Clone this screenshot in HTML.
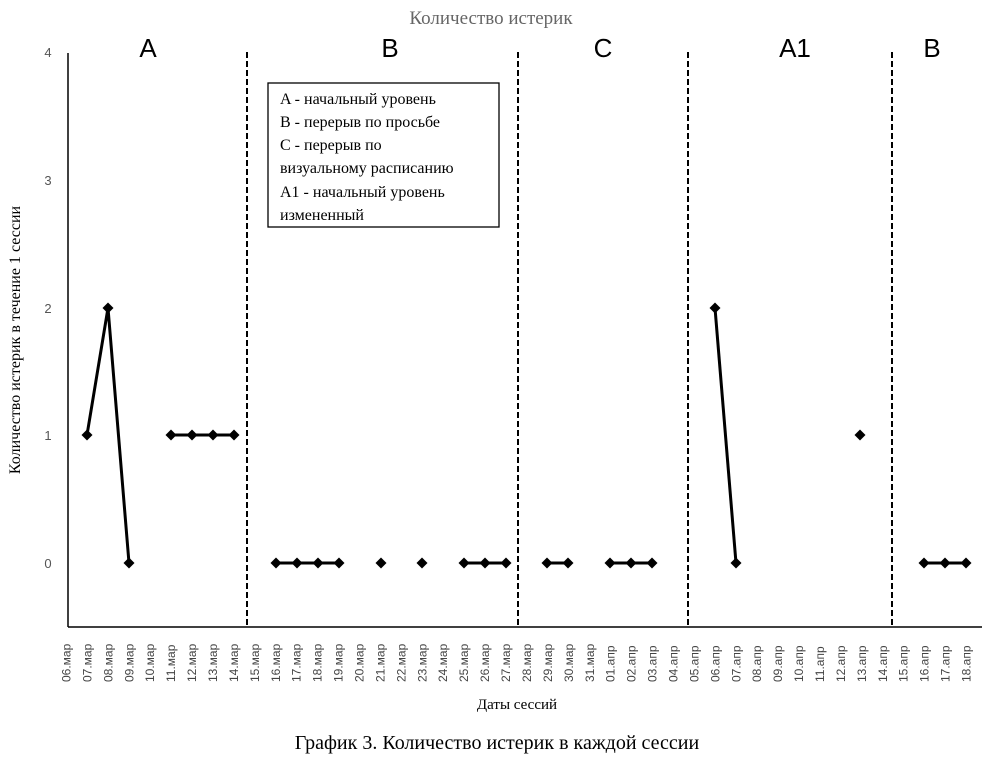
<!DOCTYPE html>
<html><head><meta charset="utf-8"><style>body{margin:0;background:#fff}svg{display:block}</style></head>
<body>
<svg width="983" height="761" xmlns="http://www.w3.org/2000/svg">
<rect width="983" height="761" fill="#fff"/>
<text x="491" y="24" text-anchor="middle" font-family="Liberation Serif, serif" font-size="19" fill="#666">Количество истерик</text>
<g font-family="Liberation Sans, sans-serif" font-size="26" text-anchor="middle" fill="#000">
<text x="148" y="57">A</text><text x="390" y="57">B</text><text x="603" y="57">C</text><text x="795" y="57">A1</text><text x="932" y="57">B</text>
</g>
<g font-family="Liberation Sans, sans-serif" font-size="13" fill="#555" text-anchor="middle">
<text x="48" y="57">4</text><text x="48" y="185">3</text><text x="48" y="313">2</text><text x="48" y="440">1</text><text x="48" y="568">0</text>
</g>
<text transform="translate(20,340) rotate(-90)" text-anchor="middle" font-family="Liberation Serif, serif" font-size="16" fill="#000">Количество истерик в течение 1 сессии</text>
<text x="517" y="709" text-anchor="middle" font-family="Liberation Serif, serif" font-size="15" fill="#000">Даты сессий</text>
<text x="497" y="749" text-anchor="middle" font-family="Liberation Serif, serif" font-size="20" fill="#000">График 3. Количество истерик в каждой сессии</text>
<line x1="68" y1="53" x2="68" y2="627" stroke="#000" stroke-width="1.5"/>
<line x1="68" y1="627" x2="982" y2="627" stroke="#000" stroke-width="1.5"/>
<g stroke="#000" stroke-width="2" stroke-dasharray="6,3">
<line x1="247" y1="52" x2="247" y2="627"/><line x1="518" y1="52" x2="518" y2="627"/>
<line x1="688" y1="52" x2="688" y2="627"/><line x1="892" y1="52" x2="892" y2="627"/>
</g>
<rect x="268" y="83" width="231" height="144" fill="#fff" stroke="#000" stroke-width="1.3"/>
<g font-family="Liberation Serif, serif" font-size="16" fill="#000">
<text x="280" y="104">A - начальный уровень</text>
<text x="280" y="127">B - перерыв по просьбе</text>
<text x="280" y="150">C - перерыв по</text>
<text x="280" y="173">визуальному расписанию</text>
<text x="280" y="197">A1 - начальный уровень</text>
<text x="280" y="220">измененный</text>
</g>
<g stroke="#000" stroke-width="3" fill="none" stroke-linejoin="round">
<polyline points="87,435 108,308 129,563"/>
<polyline points="171,435 234,435"/>
<polyline points="276,563 339,563"/>
<polyline points="464,563 506,563"/>
<polyline points="547,563 568,563"/>
<polyline points="610,563 652,563"/>
<polyline points="715,308 736,563"/>
<polyline points="924,563 966,563"/>
</g>
<defs><polygon id="d" points="0,-5.5 5.5,0 0,5.5 -5.5,0" fill="#000"/></defs>
<use href="#d" x="87" y="435"/><use href="#d" x="108" y="308"/><use href="#d" x="129" y="563"/>
<use href="#d" x="171" y="435"/><use href="#d" x="192" y="435"/><use href="#d" x="213" y="435"/><use href="#d" x="234" y="435"/>
<use href="#d" x="276" y="563"/><use href="#d" x="297" y="563"/><use href="#d" x="318" y="563"/><use href="#d" x="339" y="563"/>
<use href="#d" x="381" y="563"/><use href="#d" x="422" y="563"/>
<use href="#d" x="464" y="563"/><use href="#d" x="485" y="563"/><use href="#d" x="506" y="563"/>
<use href="#d" x="547" y="563"/><use href="#d" x="568" y="563"/>
<use href="#d" x="610" y="563"/><use href="#d" x="631" y="563"/><use href="#d" x="652" y="563"/>
<use href="#d" x="715" y="308"/><use href="#d" x="736" y="563"/>
<use href="#d" x="860" y="435"/>
<use href="#d" x="924" y="563"/><use href="#d" x="945" y="563"/><use href="#d" x="966" y="563"/>
<g font-family="Liberation Sans, sans-serif" font-size="12" fill="#444">
<text transform="translate(70.5,682) rotate(-90)">06.мар</text>
<text transform="translate(91.4,682) rotate(-90)">07.мар</text>
<text transform="translate(112.4,682) rotate(-90)">08.мар</text>
<text transform="translate(133.3,682) rotate(-90)">09.мар</text>
<text transform="translate(154.2,682) rotate(-90)">10.мар</text>
<text transform="translate(175.2,682) rotate(-90)">11.мар</text>
<text transform="translate(196.1,682) rotate(-90)">12.мар</text>
<text transform="translate(217,682) rotate(-90)">13.мар</text>
<text transform="translate(237.9,682) rotate(-90)">14.мар</text>
<text transform="translate(258.9,682) rotate(-90)">15.мар</text>
<text transform="translate(279.8,682) rotate(-90)">16.мар</text>
<text transform="translate(300.7,682) rotate(-90)">17.мар</text>
<text transform="translate(321.7,682) rotate(-90)">18.мар</text>
<text transform="translate(342.6,682) rotate(-90)">19.мар</text>
<text transform="translate(363.5,682) rotate(-90)">20.мар</text>
<text transform="translate(384.5,682) rotate(-90)">21.мар</text>
<text transform="translate(405.4,682) rotate(-90)">22.мар</text>
<text transform="translate(426.3,682) rotate(-90)">23.мар</text>
<text transform="translate(447.2,682) rotate(-90)">24.мар</text>
<text transform="translate(468.2,682) rotate(-90)">25.мар</text>
<text transform="translate(489.1,682) rotate(-90)">26.мар</text>
<text transform="translate(510,682) rotate(-90)">27.мар</text>
<text transform="translate(531,682) rotate(-90)">28.мар</text>
<text transform="translate(551.9,682) rotate(-90)">29.мар</text>
<text transform="translate(572.8,682) rotate(-90)">30.мар</text>
<text transform="translate(593.8,682) rotate(-90)">31.мар</text>
<text transform="translate(614.7,682) rotate(-90)">01.апр</text>
<text transform="translate(635.6,682) rotate(-90)">02.апр</text>
<text transform="translate(656.5,682) rotate(-90)">03.апр</text>
<text transform="translate(677.5,682) rotate(-90)">04.апр</text>
<text transform="translate(698.4,682) rotate(-90)">05.апр</text>
<text transform="translate(719.3,682) rotate(-90)">06.апр</text>
<text transform="translate(740.3,682) rotate(-90)">07.апр</text>
<text transform="translate(761.2,682) rotate(-90)">08.апр</text>
<text transform="translate(782.1,682) rotate(-90)">09.апр</text>
<text transform="translate(803.1,682) rotate(-90)">10.апр</text>
<text transform="translate(824,682) rotate(-90)">11.апр</text>
<text transform="translate(844.9,682) rotate(-90)">12.апр</text>
<text transform="translate(865.8,682) rotate(-90)">13.апр</text>
<text transform="translate(886.8,682) rotate(-90)">14.апр</text>
<text transform="translate(907.7,682) rotate(-90)">15.апр</text>
<text transform="translate(928.6,682) rotate(-90)">16.апр</text>
<text transform="translate(949.6,682) rotate(-90)">17.апр</text>
<text transform="translate(970.5,682) rotate(-90)">18.апр</text>
</g>
</svg>
</body></html>
